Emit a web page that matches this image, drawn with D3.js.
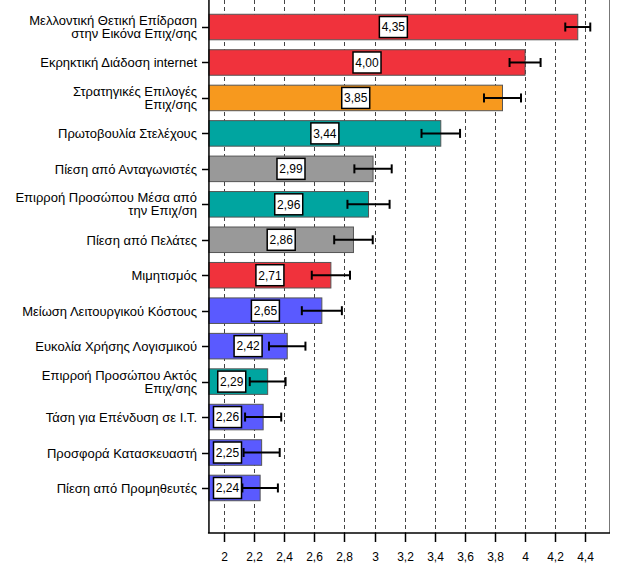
<!DOCTYPE html>
<html><head><meta charset="utf-8">
<script src="https://cdn.jsdelivr.net/npm/d3@7"></script>
<style>body{margin:0;background:#fff}svg{display:block;font-family:"Liberation Sans",Arial,sans-serif}</style>
</head><body><svg id="c" width="625" height="567"></svg>
<script>
const categories = [
  ["Μελλοντική Θετική Επίδραση","στην Εικόνα Επιχ/σης"],
  ["Εκρηκτική Διάδοση internet"],
  ["Στρατηγικές Επιλογές","Επιχ/σης"],
  ["Πρωτοβουλία Στελέχους"],
  ["Πίεση από Ανταγωνιστές"],
  ["Επιρροή Προσώπου Μέσα από","την Επιχ/ση"],
  ["Πίεση από Πελάτες"],
  ["Μιμητισμός"],
  ["Μείωση Λειτουργικού Κόστους"],
  ["Ευκολία Χρήσης Λογισμικού"],
  ["Επιρροή Προσώπου Ακτός","Επιχ/σης"],
  ["Τάση για Επένδυση σε Ι.Τ."],
  ["Προσφορά Κατασκευαστή"],
  ["Πίεση από Προμηθευτές"]
];
const means = [4.35, 4.00, 3.85, 3.44, 2.99, 2.96, 2.86, 2.71, 2.65, 2.42, 2.29, 2.26, 2.25, 2.24];
const errors = [0.083, 0.103, 0.123, 0.128, 0.124, 0.14, 0.128, 0.127, 0.133, 0.121, 0.119, 0.12, 0.12, 0.118];
const groups = ["red","red","orange","teal","gray","teal","gray","red","blue","blue","teal","blue","blue","blue"];
const groupColors = {red:"#F0323C", orange:"#F7991E", teal:"#00A5A0", gray:"#999999", blue:"#5A5AFF"};
const xTicks = [2,2.2,2.4,2.6,2.8,3,3.2,3.4,3.6,3.8,4,4.2,4.4];

const svg = d3.select("#c");
const x = d3.scaleLinear().domain([2, 4.4]).range([224, 585.3]);
const x0 = x(1.9), xR = 609.5, yTop = 0, yBot = 533;
const idx = d3.range(means.length);
const y = d3.scaleBand().domain(idx).range([9.3, 505.7]).paddingInner(0.28).paddingOuter(0.14);
const fmt = v => d3.format(".2f")(v).replace(".", ",");

// grid
svg.append("g").selectAll("line").data(xTicks).join("line")
  .attr("x1", d => Math.round(x(d)) + 0.5).attr("x2", d => Math.round(x(d)) + 0.5)
  .attr("y1", yTop).attr("y2", yBot)
  .attr("stroke", "#444").attr("stroke-width", 1).attr("stroke-dasharray", "4,3");

// right frame
svg.append("line").attr("x1", xR).attr("x2", xR).attr("y1", yTop).attr("y2", yBot)
  .attr("stroke", "#777").attr("stroke-width", 1);

// bars
svg.append("g").selectAll("rect").data(idx).join("rect")
  .attr("x", x0).attr("y", i => y(i))
  .attr("width", i => x(means[i]) - x0).attr("height", y.bandwidth())
  .attr("fill", i => groupColors[groups[i]])
  .attr("stroke", "#555").attr("stroke-width", 1);

// error bars
const eb = svg.append("g").attr("stroke", "#000").attr("stroke-width", 2);
idx.forEach(i => {
  const cy = y(i) + y.bandwidth() / 2;
  const lo = x(means[i] - errors[i]), hi = x(means[i] + errors[i]);
  eb.append("line").attr("x1", lo).attr("x2", hi).attr("y1", cy).attr("y2", cy);
  eb.append("line").attr("x1", lo).attr("x2", lo).attr("y1", cy - 4.5).attr("y2", cy + 4.5);
  eb.append("line").attr("x1", hi).attr("x2", hi).attr("y1", cy - 4.5).attr("y2", cy + 4.5);
});

// value labels
const bw = 28, bh = 21;
const lab = svg.append("g");
idx.forEach(i => {
  const cy = y(i) + y.bandwidth() / 2;
  let cx = (x0 + x(means[i])) / 2;
  cx = Math.min(cx, x(means[i] - errors[i]) - 4 - bw / 2);
  cx = Math.max(cx, 213.5 + bw / 2);
  lab.append("rect").attr("x", cx - bw / 2).attr("y", cy - bh / 2).attr("width", bw).attr("height", bh)
    .attr("fill", "#fff").attr("stroke", "#000").attr("stroke-width", 1.5);
  lab.append("text").attr("x", cx).attr("y", cy).attr("dy", "0.36em")
    .attr("text-anchor", "middle").attr("font-size", 12).attr("fill", "#000").text(fmt(means[i]));
});

// y axis
svg.append("line").attr("x1", x0).attr("x2", x0).attr("y1", yTop).attr("y2", yBot)
  .attr("stroke", "#000").attr("stroke-width", 1.5);
const ya = svg.append("g");
idx.forEach(i => {
  const cy = Math.round(y(i) + y.bandwidth() / 2) + 0.5;
  ya.append("line").attr("x1", 202).attr("x2", x0).attr("y1", cy).attr("y2", cy)
    .attr("stroke", "#000").attr("stroke-width", 1.5);
  const lines = categories[i];
  const t = ya.append("text").attr("text-anchor", "end").attr("font-size", 13).attr("fill", "#000");
  const lh = 13;
  lines.forEach((s, k) => {
    t.append("tspan").attr("x", 197)
      .attr("y", cy + (k - (lines.length - 1) / 2) * lh - (lines.length > 1 ? 1 : 0))
      .attr("dy", "0.36em").text(s);
  });
});

// x axis
svg.append("line").attr("x1", x0 - 1).attr("x2", xR + 0.5).attr("y1", yBot).attr("y2", yBot)
  .attr("stroke", "#000").attr("stroke-width", 1.5);
const xa = svg.append("g");
xTicks.forEach(t => {
  const px = Math.round(x(t)) + 0.5;
  xa.append("line").attr("x1", px).attr("x2", px).attr("y1", yBot).attr("y2", yBot + 9)
    .attr("stroke", "#000").attr("stroke-width", 1.5);
  xa.append("text").attr("x", px).attr("y", 557).attr("dy", "0.36em").attr("text-anchor", "middle")
    .attr("font-size", 12).attr("fill", "#000").text(String(t).replace(".", ","));
});
</script></body></html>
